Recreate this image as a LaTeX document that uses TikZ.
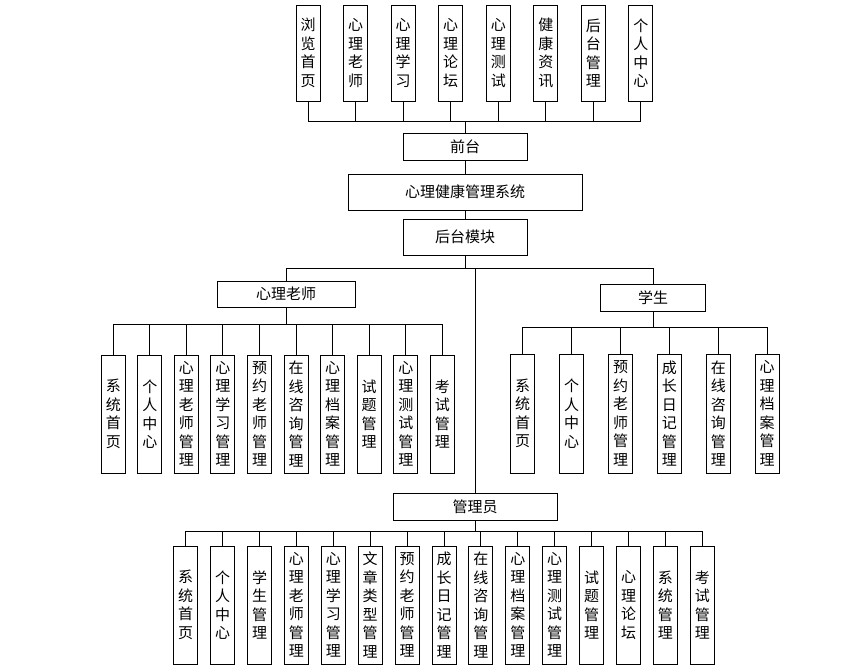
\documentclass[tikz,border=0pt]{standalone}
\usepackage{fontspec}
\setmainfont{Noto Sans CJK SC}

\begin{document}
\begin{tikzpicture}[x=1pt,y=-1pt]
\tikzstyle{every node}=[font=\fontsize{15}{18.5}\selectfont]
\tikzstyle{hbox}=[draw,line width=1pt,inner sep=0pt,minimum height=27pt]
\tikzstyle{vbox}=[draw,line width=1pt,inner sep=0pt,minimum width=24pt,align=center]
\tikzstyle{link}=[line width=1pt]
\useasboundingbox (0,0) rectangle (865,670);

% bus lines
\coordinate (topbus) at (0,121);
\coordinate (midbus) at (0,268);
\coordinate (tchbus) at (0,324);
\coordinate (stubus) at (0,327.7);
\coordinate (admbus) at (0,531.7);

% front end
\node[hbox,minimum width=124pt] (front) at (465,146.5) {前台};
\node[hbox,minimum width=234pt,minimum height=36pt] (sys) at (465,192) {心理健康管理系统};
\node[hbox,minimum width=124pt,minimum height=36pt] (back) at (465,237) {后台模块};
\draw[link] (front) -- (sys);
\draw[link] (sys) -- (back);

\foreach \t [count=\i from 0] in {{浏\\览\\首\\页},{心\\理\\老\\师},{心\\理\\学\\习},{心\\理\\论\\坛},
  {心\\理\\测\\试},{健\\康\\资\\讯},{后\\台\\管\\理},{个\\人\\中\\心}}
{
  \node[vbox,minimum height=96pt] (f\i) at (308+\i*47.57,53) {\t};
  \draw[link] (front.north) -- (front.north |- topbus) -| (f\i.south);
}

% roles
\node[hbox,minimum width=138pt,minimum height=26pt] (tch) at (286,294) {心理老师};
\node[hbox,minimum width=105pt] (stu) at (653,297.5) {学生};
\node[hbox,minimum width=164pt] (adm) at (475,506.5) {管理员};
\draw[link] (back.south) -- (back.south |- midbus) -| (tch.north);
\draw[link] (back.south) -- (back.south |- midbus) -| (stu.north);
\draw[link] (adm.north) -- (adm.north |- midbus);

% teacher
\foreach \t [count=\i from 0] in {{系\\统\\首\\页},{个\\人\\中\\心},{心\\理\\老\\师\\管\\理},
  {心\\理\\学\\习\\管\\理},{预\\约\\老\\师\\管\\理},{在\\线\\咨\\询\\管\\理},
  {心\\理\\档\\案\\管\\理},{试\\题\\管\\理},{心\\理\\测\\试\\管\\理},{考\\试\\管\\理}}
{
  \node[vbox,minimum height=118pt] (t\i) at (113.3+\i*36.56,414) {\t};
  \draw[link] (tch.south) -- (tch.south |- tchbus) -| (t\i.north);
}

% student
\foreach \t [count=\i from 0] in {{系\\统\\首\\页},{个\\人\\中\\心},{预\\约\\老\\师\\管\\理},
  {成\\长\\日\\记\\管\\理},{在\\线\\咨\\询\\管\\理},{心\\理\\档\\案\\管\\理}}
{
  \node[vbox,minimum height=119pt] (s\i) at (522.7+\i*48.9,413.5) {\t};
  \draw[link] (stu.south) -- (stu.south |- stubus) -| (s\i.north);
}

% admin
\foreach \t [count=\i from 0] in {{系\\统\\首\\页},{个\\人\\中\\心},{学\\生\\管\\理},
  {心\\理\\老\\师\\管\\理},{心\\理\\学\\习\\管\\理},{文\\章\\类\\型\\管\\理},
  {预\\约\\老\\师\\管\\理},{成\\长\\日\\记\\管\\理},{在\\线\\咨\\询\\管\\理},
  {心\\理\\档\\案\\管\\理},{心\\理\\测\\试\\管\\理},{试\\题\\管\\理},
  {心\\理\\论\\坛},{系\\统\\管\\理},{考\\试\\管\\理}}
{
  \node[vbox,minimum height=118pt] (a\i) at (185.7+\i*36.9,605) {\t};
  \draw[link] (adm.south) -- (adm.south |- admbus) -| (a\i.north);
}
\end{tikzpicture}
\end{document}
